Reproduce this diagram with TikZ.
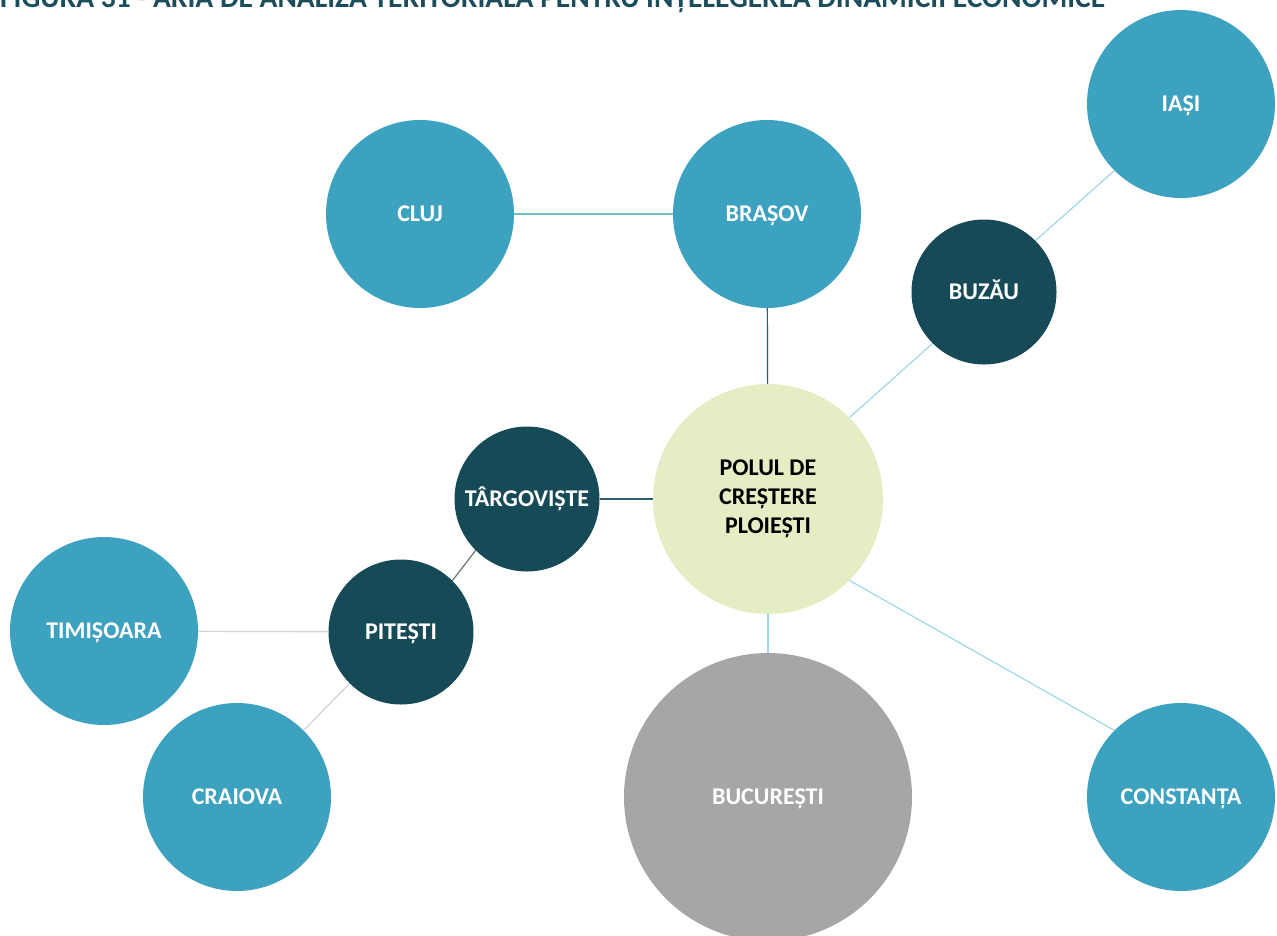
\documentclass[tikz,border=0pt]{standalone}
\usepackage{fontspec}
\setmainfont{Carlito}
\usetikzlibrary{backgrounds}
\definecolor{lteal}{HTML}{3DA2BF}
\definecolor{dteal}{HTML}{164A57}
\definecolor{pgreen}{HTML}{E4EDC4}
\definecolor{cgray}{HTML}{A6A6A6}
\definecolor{lnblue}{HTML}{9DD7E8}
\definecolor{lnteal}{HTML}{6FBFD0}
\definecolor{lndark}{HTML}{2F5F6E}
\definecolor{lngray}{HTML}{D3D3D3}
\definecolor{titlec}{HTML}{1B4D5C}
\tikzset{
  city/.style={circle,inner sep=0pt,text=white,font=\fontsize{24}{28}\selectfont\bfseries,text height=15pt,text depth=0pt},
  big/.style={city,fill=lteal,minimum size=188pt},
  small/.style={city,fill=dteal,minimum size=145pt},
  link/.style={line width=1.2pt}
}
\begin{document}
\begin{tikzpicture}[x=1pt,y=-1pt]
\useasboundingbox (0,0) rectangle (1277,935);
\node[anchor=base west,text=titlec,font=\fontsize{29.5}{32}\selectfont\bfseries,inner sep=0pt] (title) at (0,7) {FIGURA 31 - ARIA DE ANALIZĂ TERITORIALĂ PENTRU ÎNȚELEGEREA DINAMICII ECONOMICE};
\node[big] (cluj) at (420,214) {CLUJ};
\node[big] (brasov) at (767,214) {BRAȘOV};
\node[big] (iasi) at (1181,104) {IAȘI};
\node[small] (buzau) at (984,292) {BUZĂU};
\node[circle,inner sep=0pt,fill=pgreen,minimum size=230pt,text=black,align=center,font=\fontsize{24}{29}\selectfont\bfseries] (pol) at (768,499) {POLUL DE\\CREȘTERE\\PLOIEȘTI};
\node[small] (targ) at (527,499) {TÂRGOVIȘTE};
\node[small] (pit) at (401,632) {PITEȘTI};
\node[big] (tim) at (104,631) {TIMIȘOARA};
\node[big] (cra) at (237,797) {CRAIOVA};
\node[city,fill=cgray,minimum size=288pt] (buc) at (768,797) {BUCUREȘTI};
\node[big] (con) at (1181,797) {CONSTANȚA};
\begin{scope}[on background layer]
\draw[link,lnteal] (cluj) -- (brasov);
\draw[link,lndark] (brasov) -- (pol);
\draw[link,lnblue] (iasi.225) -- (buzau.45);
\draw[link,lnblue] (buzau.225) -- (pol.45);
\draw[link,lndark] (targ) -- (pol);
\draw[link,gray!80!dteal] (pit.45) -- (targ.225);
\draw[link,lngray] (tim) -- (pit);
\draw[link,lngray] (cra.45) -- (pit.225);
\draw[link,lnblue] (pol) -- (buc);
\draw[link,lnblue] (pol.315) -- (con.135);
\end{scope}
\end{tikzpicture}
\end{document}
